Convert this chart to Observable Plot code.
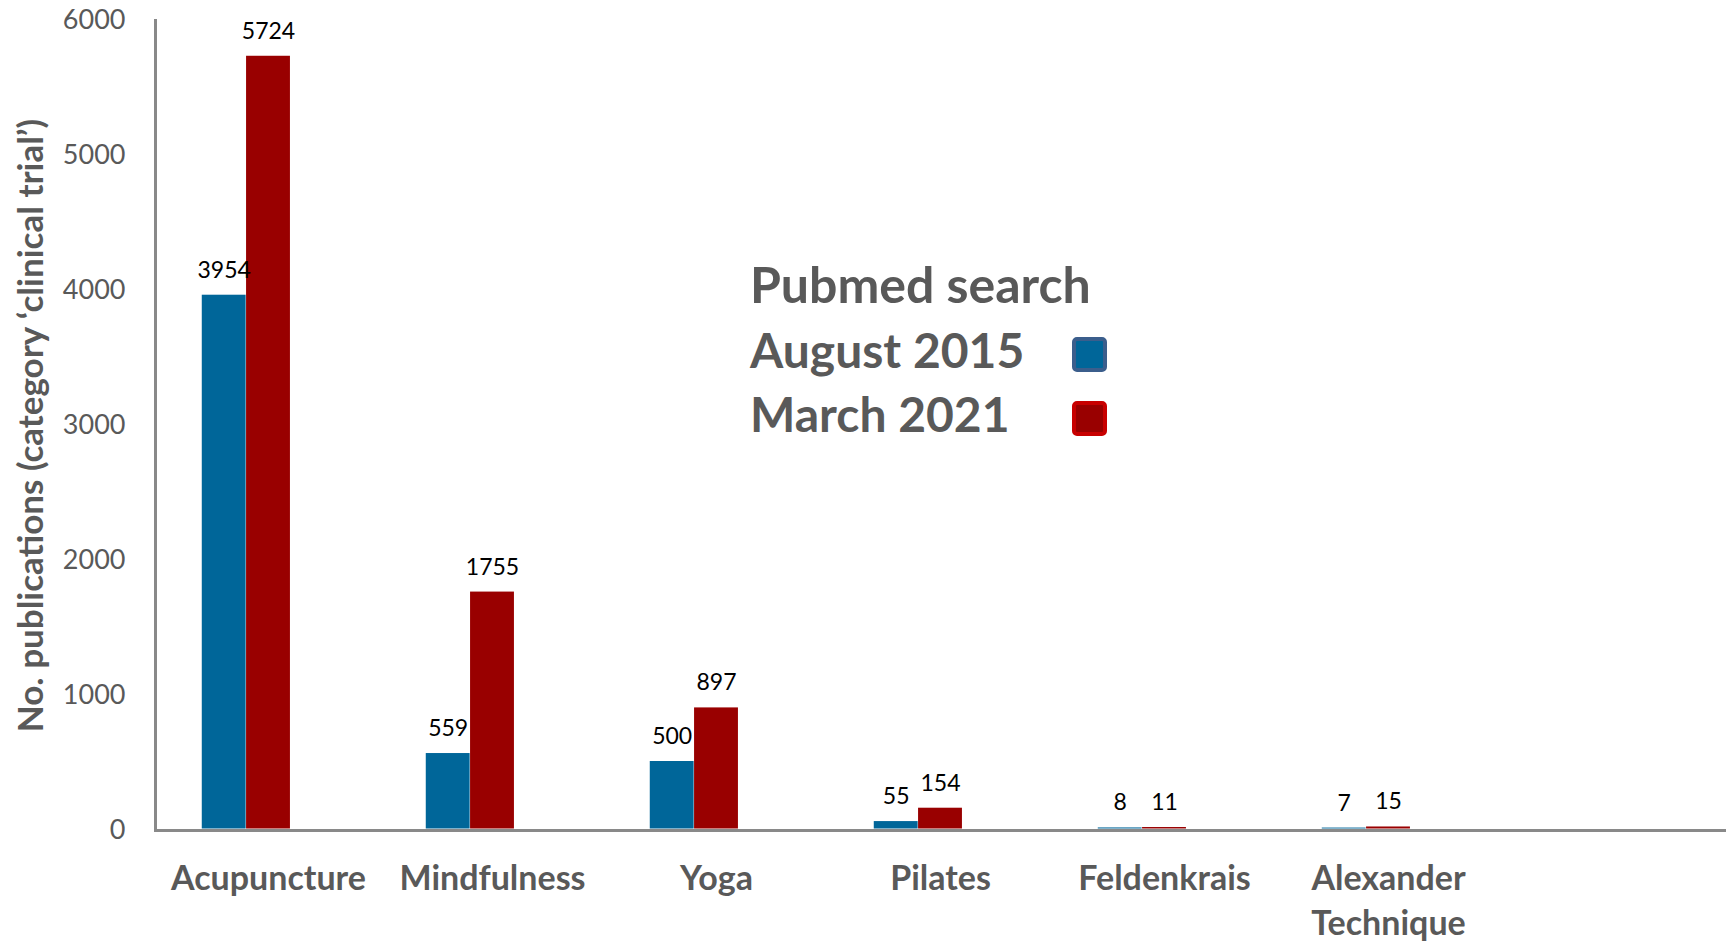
<!DOCTYPE html>
<html><head><meta charset="utf-8">
<script src="https://cdn.jsdelivr.net/npm/d3@7"></script>
<script src="https://cdn.jsdelivr.net/npm/@observablehq/plot@0.6"></script>
<style>
html,body{margin:0;padding:0;background:#fff;}
#wrap{position:relative;width:1733px;height:943px;}
#legend{position:absolute;left:0;top:0;pointer-events:none;}
</style></head><body><div id="wrap"></div>
<script>
const categories = ["Acupuncture","Mindfulness","Yoga","Pilates","Feldenkrais","Alexander Technique"];
const seriesNames = ["August 2015","March 2021"];
const aug2015 = [3954,559,500,55,8,7];
const mar2021 = [5724,1755,897,154,11,15];
const yTicks = [0,1000,2000,3000,4000,5000,6000];
const yTitle = "No. publications (category \u2018clinical trial\u2019)";
const legendTitle = "Pubmed search";
const seriesColors = ["#006699","#990000"];
const swatchStrokes = ["#3b5e8c","#c80000"];

const W=1733, H=943, mL=155, mR=7, mT=20, mB=113;
const nBands = categories.length + 1; // the original leaves one empty band at the right
const bw = (W-mL-mR)/nBands;
const barW = 44.3;
const inset = (bw-barW)/2;
const gray = "#595959", axisGray = "#898989";
const font = "Lato, 'Open Sans', sans-serif";

const rows = (vals, s) => categories.map((c,i)=>({category:c, series:s, value: vals[i]}));
const augRows = rows(aug2015, seriesNames[0]);
const marRows = rows(mar2021, seriesNames[1]);

const chart = Plot.plot({
  width: W, height: H, marginLeft: mL, marginRight: mR, marginTop: mT, marginBottom: mB,
  style: {fontFamily: font, background: "#fff"},
  x: {domain: categories, padding: 0, insetRight: bw},
  y: {domain: [0,6000]},
  color: {domain: seriesNames, range: seriesColors},
  marks: [
    Plot.ruleY([0], {stroke: axisGray, strokeWidth: 3}),
    Plot.frame({anchor: "left", stroke: axisGray, strokeWidth: 3}),
    Plot.barY(augRows, {x:"category", y:"value", fill:"series", insetLeft: inset, insetRight: inset, dx: -barW, dy: -1.5}),
    Plot.barY(marRows, {x:"category", y:"value", fill:"series", insetLeft: inset, insetRight: inset, dy: -1.5}),
    Plot.text(augRows, {x:"category", y:"value", text: d=>String(d.value), dx: -barW, dy: -19, lineAnchor:"bottom", fontSize: 23, fill:"#000"}),
    Plot.text(marRows, {x:"category", y:"value", text: d=>String(d.value), dy: -19, lineAnchor:"bottom", fontSize: 23, fill:"#000"}),
    Plot.axisY(yTicks, {tickSize: 0, tickPadding: 30, fontSize: 27, fill: gray, label: null, tickFormat: d => String(d)}),
    Plot.axisX({tickSize: 0, tickPadding: 27, fontSize: 34, fontWeight: "bold", fill: gray, lineHeight: 1.33, tickFormat: d => d.replace(" ", "\n"), label: null}),
    Plot.text([yTitle], {text: d=>d, frameAnchor: "left", textAnchor: "middle", lineAnchor: "middle", dx: -124, rotate: -90, fontSize: 35, fontWeight: "bold", fill: gray})
  ]
});
document.getElementById("wrap").appendChild(chart);

// legend overlay
const lg = d3.select("#wrap").append("svg").attr("id","legend").attr("width",W).attr("height",H)
  .style("font-family", font).style("font-weight","bold").style("font-size","48px");
const lx = 750, baselines = [303, 368, 432];
lg.append("text").attr("x", lx).attr("y", baselines[0]).attr("fill", gray).attr("font-size", "50px").text(legendTitle);
seriesNames.forEach((s,i)=>{
  lg.append("text").attr("x", lx).attr("y", baselines[i+1]).attr("fill", gray).text(s);
  lg.append("rect").attr("x", 1074).attr("y", baselines[i+1]-29).attr("width", 31).attr("height", 31)
    .attr("rx", 3).attr("fill", seriesColors[i]).attr("stroke", swatchStrokes[i]).attr("stroke-width", 4);
});
</script></body></html>
